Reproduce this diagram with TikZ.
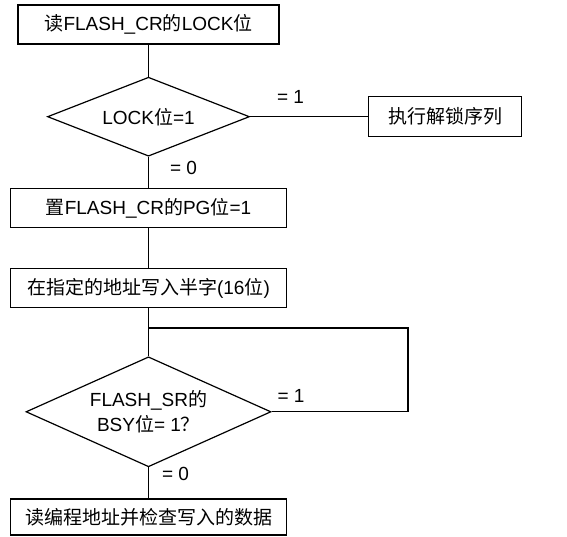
\documentclass[tikz,border=0pt]{standalone}
\usepackage{fontspec}
\setmainfont{Liberation Sans}
\newfontfamily\cjk{Noto Sans CJK SC}
\newcommand{\zh}[1]{{\cjk #1}}
\usetikzlibrary{positioning, shapes.geometric}

\begin{document}
\begin{tikzpicture}[x = 1pt, y = -1pt, line width = 1.2pt,
    every node/.style = { align = center, font = \fontsize{19}{25}\selectfont },
    box/.style = { draw, minimum width = 276pt, minimum height = 39pt, inner sep = 0pt },
    test/.style = { draw, shape = diamond, aspect = 2.5, inner sep = 0pt }]
    \useasboundingbox (0,0) rectangle (567,537);
    \node [box, minimum width = 261pt] (rdlock) at (148.5,24.5) {\zh{读}FLASH\_CR\zh{的}LOCK\zh{位}};
    \node [test, minimum width = 202pt, minimum height = 79pt, below = 32pt of rdlock] (lock) {LOCK\zh{位}=1};
    \node [box, minimum width = 153pt, minimum height = 40pt, right = 118pt of lock] (unlock) {\zh{执行解锁序列}};
    \node [box, below = 31pt of lock] (setpg) {\zh{置}FLASH\_CR\zh{的}PG\zh{位}=1};
    \node [box, below = 40pt of setpg] (write) {\zh{在指定的地址写入半字}(16\zh{位})};
    \node [test, minimum width = 245pt, minimum height = 110pt, below = 48pt of write] (busy) {FLASH\_SR\zh{的}\\ BSY\zh{位}= 1\zh{？}};
    \node [box, minimum height = 36pt, below = 31pt of busy] (check) {\zh{读编程地址并检查写入的数据}};
    % branch labels
    \node (lockone) at (290.5,97) {= 1};
    \node (lockzero) at (183.5,168) {= 0};
    \node (busyone) at (291,396) {= 1};
    \node (busyzero) at (175.5,474) {= 0};
    \coordinate (split) at (148.5,328);
    \coordinate (back) at (408,328);

    \draw (rdlock) -- (lock);
    \draw (lock.east) -- (unlock.west);
    \draw (lock) -- (setpg);
    \draw (setpg) -- (write);
    \draw (write) -- (busy);
    \draw (busy.east) -| (back) -- (split);
    \draw (busy) -- (check);
\end{tikzpicture}
\end{document}
